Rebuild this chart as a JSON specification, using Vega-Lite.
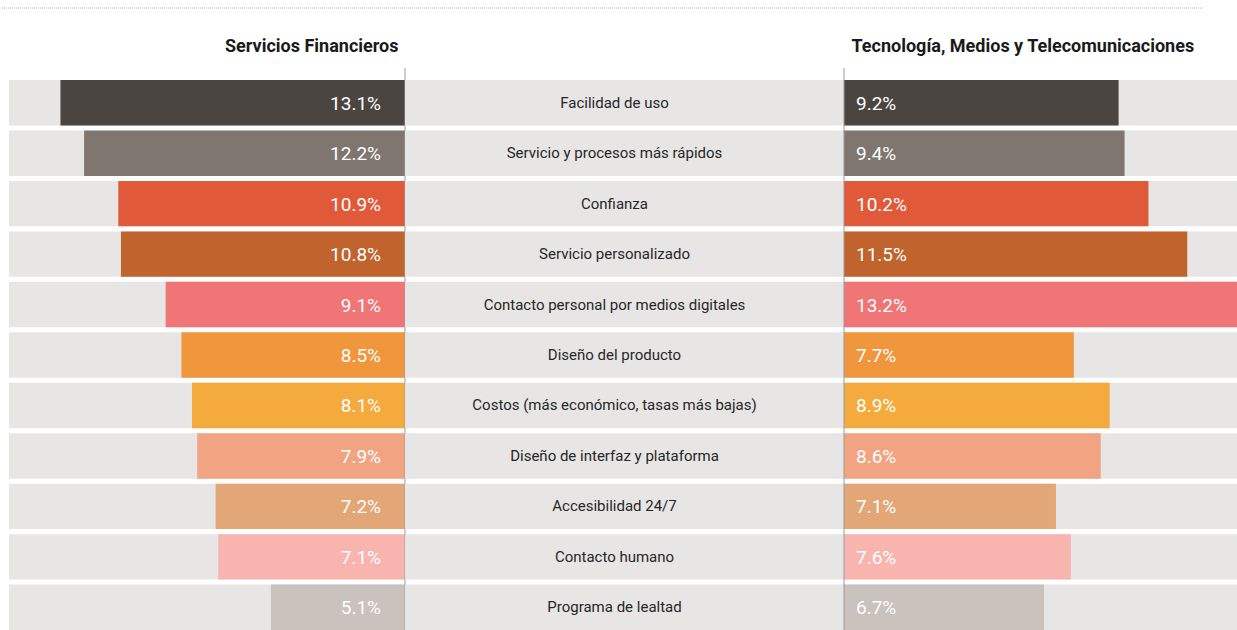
{
  "$schema": "https://vega.github.io/schema/vega-lite/v6.json",
  "padding": 0,
  "background": "white",
  "spacing": 28,
  "config": {
    "view": {"stroke": null},
    "font": "Roboto",
    "title": {"font": "Roboto", "fontSize": 18, "fontWeight": "bold", "color": "#1a1a1a", "offset": 12}
  },
  "datasets": {
    "d": [
      {"label": "Facilidad de uso", "fin": 0.131, "tmt": 0.092},
      {"label": "Servicio y procesos más rápidos", "fin": 0.122, "tmt": 0.094},
      {"label": "Confianza", "fin": 0.109, "tmt": 0.102},
      {"label": "Servicio personalizado", "fin": 0.108, "tmt": 0.115},
      {"label": "Contacto personal por medios digitales", "fin": 0.091, "tmt": 0.132},
      {"label": "Diseño del producto", "fin": 0.085, "tmt": 0.077},
      {"label": "Costos (más económico, tasas más bajas)", "fin": 0.081, "tmt": 0.089},
      {"label": "Diseño de interfaz y plataforma", "fin": 0.079, "tmt": 0.086},
      {"label": "Accesibilidad 24/7", "fin": 0.072, "tmt": 0.071},
      {"label": "Contacto humano", "fin": 0.071, "tmt": 0.076},
      {"label": "Programa de lealtad", "fin": 0.051, "tmt": 0.067}
    ]
  },
  "vconcat": [
    {
      "width": 1202,
      "height": 8,
      "data": {"values": [{"p": 0}]},
      "mark": {"type": "rule", "color": "#b0b0b0", "strokeDash": [1, 1], "strokeWidth": 1},
      "encoding": {"y": {"field": "p", "type": "quantitative", "axis": null, "scale": {"domain": [0, 1]}}}
    },
    {
      "spacing": 0,
      "bounds": "flush",
      "hconcat": [
        {
          "width": 404,
          "height": 562,
          "title": {"text": "Servicios Financieros", "anchor": "end", "dx": -7},
          "data": {"name": "d"},
          "layer": [
            {
              "mark": {"type": "bar", "color": "#e7e6e5"},
              "encoding": {
                "y": {"field": "label", "type": "nominal", "sort": null, "axis": null, "scale": {"paddingInner": 0.1, "paddingOuter": 0.119, "align": 1}},
                "x": {"datum": 0.1506, "type": "quantitative", "scale": {"domain": [0, 0.1536], "reverse": true, "nice": false}, "axis": null},
                "x2": {"datum": 0}
              }
            },
            {
              "mark": {"type": "bar"},
              "encoding": {
                "y": {"field": "label", "type": "nominal", "sort": null, "axis": null},
                "x": {"field": "fin", "type": "quantitative"},
                "color": {
                  "field": "label", "type": "nominal", "legend": null,
                  "scale": {
                    "domain": ["Facilidad de uso", "Servicio y procesos más rápidos", "Confianza", "Servicio personalizado", "Contacto personal por medios digitales", "Diseño del producto", "Costos (más económico, tasas más bajas)", "Diseño de interfaz y plataforma", "Accesibilidad 24/7", "Contacto humano", "Programa de lealtad"],
                    "range": ["#4a4540", "#7f7670", "#e05a3a", "#c0632c", "#ef7577", "#f0963c", "#f5aa3d", "#f2a382", "#e3a677", "#f8b4af", "#cac2bc"]
                  }
                }
              }
            },
            {
              "mark": {"type": "text", "align": "right", "baseline": "middle", "dx": -24, "dy": 1, "color": "white", "fontSize": 19},
              "encoding": {
                "y": {"field": "label", "type": "nominal", "sort": null, "axis": null},
                "x": {"datum": 0},
                "text": {"field": "fin", "type": "quantitative", "format": ".1%"}
              }
            },
            {
              "data": {"values": [{"v": 0}]},
              "mark": {"type": "rule", "color": "#9a9a9a", "strokeWidth": 1},
              "encoding": {"x": {"field": "v", "type": "quantitative"}}
            }
          ]
        },
        {
          "width": 439,
          "height": 562,
          "data": {"name": "d"},
          "layer": [
            {
              "mark": {"type": "bar", "color": "#e7e6e5"},
              "encoding": {
                "y": {"field": "label", "type": "nominal", "sort": null, "axis": null, "scale": {"paddingInner": 0.1, "paddingOuter": 0.119, "align": 1}},
                "x": {"datum": 0, "type": "quantitative", "scale": {"domain": [0, 1], "nice": false}, "axis": null},
                "x2": {"datum": 1}
              }
            },
            {
              "mark": {"type": "text", "align": "center", "baseline": "middle", "dx": -10, "color": "#262626", "fontSize": 15},
              "encoding": {
                "y": {"field": "label", "type": "nominal", "sort": null, "axis": null},
                "x": {"datum": 0.5},
                "text": {"field": "label", "type": "nominal"}
              }
            }
          ]
        },
        {
          "width": 394,
          "height": 562,
          "title": {"text": "Tecnología, Medios y Telecomunicaciones", "anchor": "start", "dx": 8},
          "data": {"name": "d"},
          "layer": [
            {
              "mark": {"type": "bar", "color": "#e7e6e5"},
              "encoding": {
                "y": {"field": "label", "type": "nominal", "sort": null, "axis": null, "scale": {"paddingInner": 0.1, "paddingOuter": 0.119, "align": 1}},
                "x": {"datum": 0.132, "type": "quantitative", "scale": {"domain": [0, 0.132], "nice": false}, "axis": null},
                "x2": {"datum": 0}
              }
            },
            {
              "mark": {"type": "bar"},
              "encoding": {
                "y": {"field": "label", "type": "nominal", "sort": null, "axis": null},
                "x": {"field": "tmt", "type": "quantitative"},
                "color": {"field": "label", "type": "nominal", "legend": null}
              }
            },
            {
              "mark": {"type": "text", "align": "left", "baseline": "middle", "dx": 12, "dy": 1, "color": "white", "fontSize": 19},
              "encoding": {
                "y": {"field": "label", "type": "nominal", "sort": null, "axis": null},
                "x": {"datum": 0},
                "text": {"field": "tmt", "type": "quantitative", "format": ".1%"}
              }
            },
            {
              "data": {"values": [{"v": 0}]},
              "mark": {"type": "rule", "color": "#9a9a9a", "strokeWidth": 1},
              "encoding": {"x": {"field": "v", "type": "quantitative"}}
            }
          ]
        }
      ]
    }
  ]
}
